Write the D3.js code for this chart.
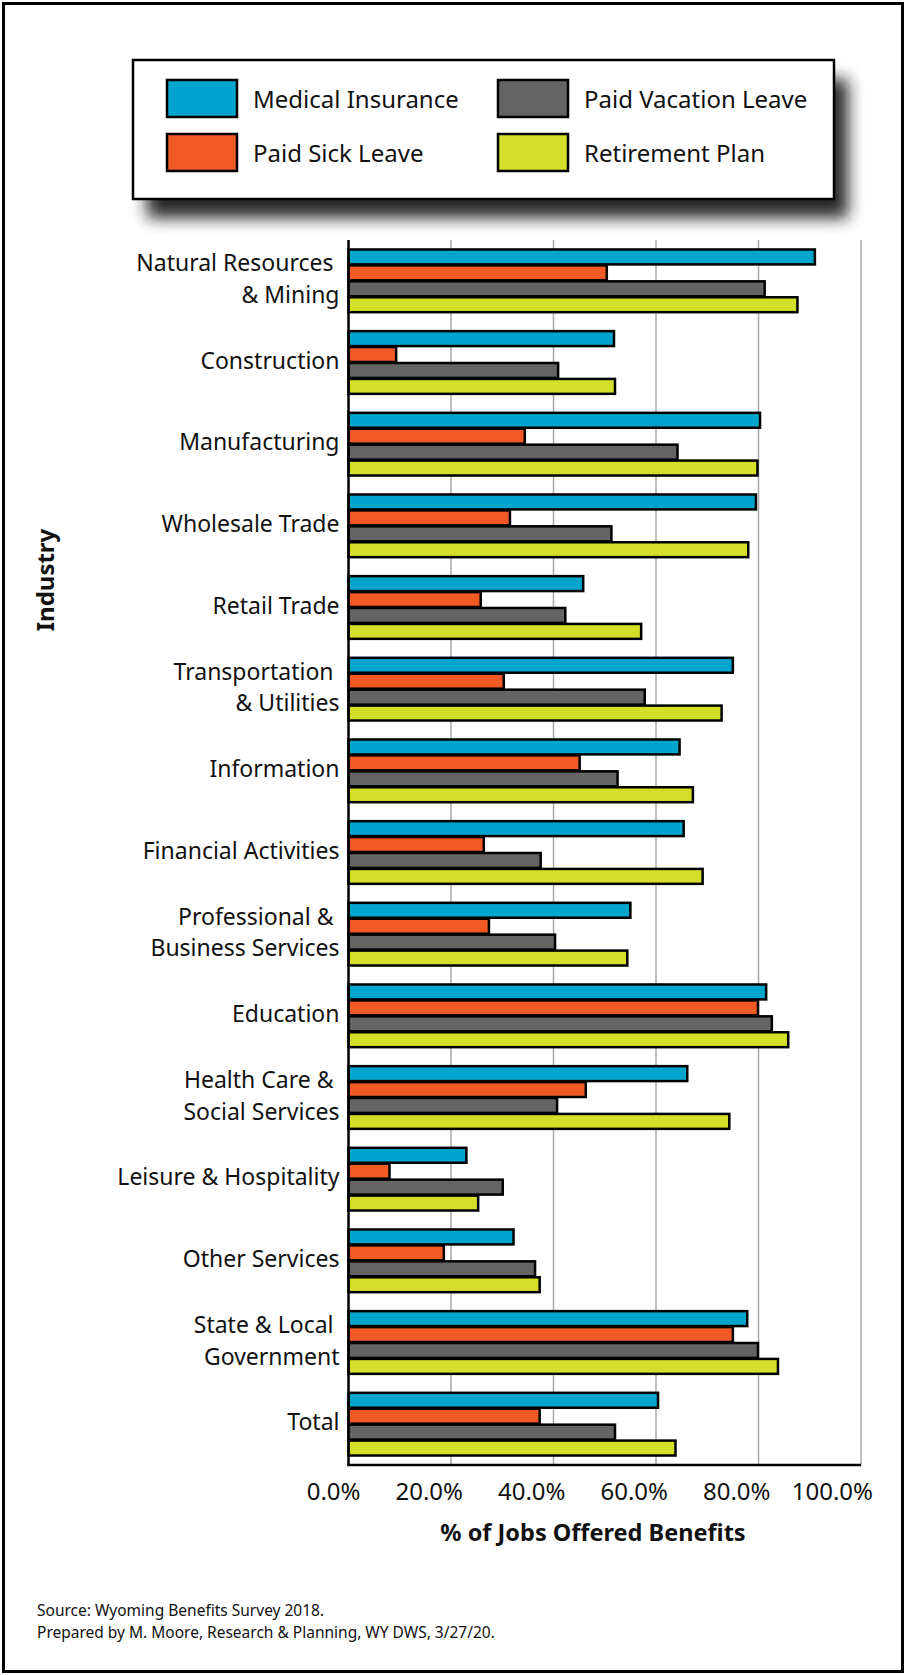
<!DOCTYPE html>
<html>
<head>
<meta charset="utf-8">
<script src="https://cdn.jsdelivr.net/npm/d3@7"></script>
<style>
  html, body { margin: 0; padding: 0; background: #fff; }
  svg { display: block; font-family: "Noto Sans", sans-serif; }
  .cat-label { white-space: pre; }
</style>
</head>
<body>
<svg id="chart" width="906" height="1675"></svg>
<script>
// Industries, top to bottom ("\n" marks a line break in the axis label)
const categories = [
  "Natural Resources \n& Mining",
  "Construction",
  "Manufacturing",
  "Wholesale Trade",
  "Retail Trade",
  "Transportation \n& Utilities",
  "Information",
  "Financial Activities",
  "Professional & \nBusiness Services",
  "Education",
  "Health Care & \nSocial Services",
  "Leisure & Hospitality",
  "Other Services",
  "State & Local \nGovernment",
  "Total"
];

const seriesNames = ["Medical Insurance", "Paid Sick Leave", "Paid Vacation Leave", "Retirement Plan"];
const seriesColors = ["#00a5cd", "#f15a24", "#636463", "#d4df2a"];

// Percent of jobs offered each benefit
const medicalInsurance  = [91.0, 51.8, 80.3, 79.5, 45.8, 75.0, 64.6, 65.4, 55.0, 81.5, 66.1, 23.0, 32.2, 77.8, 60.4];
const paidSickLeave     = [50.4,  9.3, 34.4, 31.5, 25.8, 30.3, 45.1, 26.4, 27.4, 79.9, 46.3,  8.0, 18.6, 75.0, 37.3];
const paidVacationLeave = [81.2, 40.9, 64.2, 51.3, 42.3, 57.8, 52.5, 37.5, 40.3, 82.6, 40.7, 30.1, 36.4, 79.9, 52.0];
const retirementPlan    = [87.6, 52.0, 79.8, 78.0, 57.1, 72.8, 67.2, 69.1, 54.4, 85.8, 74.3, 25.3, 37.3, 83.8, 63.8];

const xTicks = [0, 20, 40, 60, 80, 100];

const seriesValues = [medicalInsurance, paidSickLeave, paidVacationLeave, retirementPlan];

const rows = categories.map((c, i) => ({
  category: c,
  values: seriesNames.map((s, k) => ({ series: s, key: k, value: seriesValues[k][i] }))
}));

const svg = d3.select("#chart");

// Outer frame
svg.append("rect")
  .attr("x", 3.5).attr("y", 3.5)
  .attr("width", 899).attr("height", 1668)
  .attr("fill", "#fff").attr("stroke", "#000").attr("stroke-width", 3);

// Scales
const x = d3.scaleLinear().domain([0, 100]).range([348.5, 861]);
const y = d3.scaleBand().domain(categories).range([240, 1465]).paddingInner(0.22).paddingOuter(0.11);
const yInner = d3.scaleBand().domain(d3.range(seriesNames.length)).range([0, y.bandwidth()]);

// Gridlines
svg.append("g")
  .selectAll("line")
  .data(xTicks.filter(t => t > 0))
  .join("line")
  .attr("x1", d => x(d)).attr("x2", d => x(d))
  .attr("y1", 240).attr("y2", 1465)
  .attr("stroke", "#a8a8a8").attr("stroke-width", 1.5);

// Bars
const groups = svg.append("g")
  .selectAll("g")
  .data(rows)
  .join("g")
  .attr("transform", d => `translate(0,${y(d.category)})`);

groups.selectAll("rect")
  .data(d => d.values)
  .join("rect")
  .attr("x", x(0))
  .attr("y", d => yInner(d.key) + 0.5)
  .attr("width", d => x(d.value) - x(0))
  .attr("height", yInner.bandwidth() - 1)
  .attr("fill", d => seriesColors[d.key])
  .attr("stroke", "#000")
  .attr("stroke-width", 2.5);

// Axis lines
svg.append("line")
  .attr("x1", x(0)).attr("x2", x(0)).attr("y1", 240).attr("y2", 1466)
  .attr("stroke", "#000").attr("stroke-width", 2.5);
svg.append("line")
  .attr("x1", x(0) - 1).attr("x2", x(100)).attr("y1", 1465).attr("y2", 1465)
  .attr("stroke", "#000").attr("stroke-width", 2.5);

// Category labels
const catLabels = svg.append("g")
  .selectAll("text")
  .data(categories)
  .join("text")
  .attr("class", "cat-label")
  .attr("text-anchor", "end")
  .attr("font-size", 23)
  .attr("fill", "#111");

catLabels.each(function(d) {
  const lines = d.split("\n");
  const cy = y(d) + y.bandwidth() / 2;
  const lh = 31.5;
  const first = cy - 2 - (lines.length - 1) * lh / 2;
  d3.select(this).selectAll("tspan")
    .data(lines)
    .join("tspan")
    .attr("x", 339.5)
    .attr("y", (l, i) => first + i * lh)
    .attr("dy", "0.36em")
    .text(l => l);
});

// X tick labels
svg.append("g")
  .selectAll("text")
  .data(xTicks)
  .join("text")
  .attr("x", d => x(d) + 12)
  .attr("y", 1500)
  .attr("text-anchor", "end")
  .attr("font-size", 24)
  .attr("fill", "#111")
  .text(d => d3.format(".1f")(d) + "%");

// Axis titles
svg.append("text")
  .attr("x", 593).attr("y", 1541)
  .attr("text-anchor", "middle")
  .attr("font-size", 23.5).attr("font-weight", "bold")
  .attr("fill", "#111")
  .text("% of Jobs Offered Benefits");

svg.append("text")
  .attr("transform", "translate(54,580) rotate(-90)")
  .attr("text-anchor", "middle")
  .attr("font-size", 24).attr("font-weight", "bold")
  .attr("fill", "#111")
  .text("Industry");

// Legend with drop shadow
const defs = svg.append("defs");
defs.append("filter").attr("id", "shadowBlur")
  .attr("x", "-20%").attr("y", "-40%").attr("width", "140%").attr("height", "180%")
  .append("feGaussianBlur").attr("stdDeviation", 8);

const legendBox = { x: 133, y: 60, w: 701, h: 139 };
svg.append("rect")
  .attr("x", legendBox.x + 14).attr("y", legendBox.y + 19)
  .attr("width", legendBox.w).attr("height", legendBox.h)
  .attr("fill", "#1a1a1a").attr("opacity", 0.95)
  .attr("filter", "url(#shadowBlur)");
svg.append("rect")
  .attr("x", legendBox.x).attr("y", legendBox.y)
  .attr("width", legendBox.w).attr("height", legendBox.h)
  .attr("fill", "#fff").attr("stroke", "#000").attr("stroke-width", 2.5);

const legendCols = [167, 498];
const legendRows = [80, 134];
const legendItems = svg.append("g")
  .selectAll("g")
  .data(seriesNames)
  .join("g")
  .attr("transform", (d, i) => `translate(${legendCols[Math.floor(i / 2)]},${legendRows[i % 2]})`);

legendItems.append("rect")
  .attr("width", 70).attr("height", 37)
  .attr("fill", (d, i) => seriesColors[i])
  .attr("stroke", "#000").attr("stroke-width", 2.5);

legendItems.append("text")
  .attr("x", 86).attr("y", 19.5).attr("dy", "0.36em")
  .attr("font-size", 24).attr("fill", "#111")
  .text(d => d);

// Source notes
svg.append("g")
  .selectAll("text")
  .data(["Source: Wyoming Benefits Survey 2018.",
         "Prepared by M. Moore, Research & Planning, WY DWS, 3/27/20."])
  .join("text")
  .attr("x", 37)
  .attr("y", (d, i) => 1616 + i * 22)
  .attr("font-size", 15.5)
  .attr("fill", "#111")
  .text(d => d);
</script>
</body>
</html>
